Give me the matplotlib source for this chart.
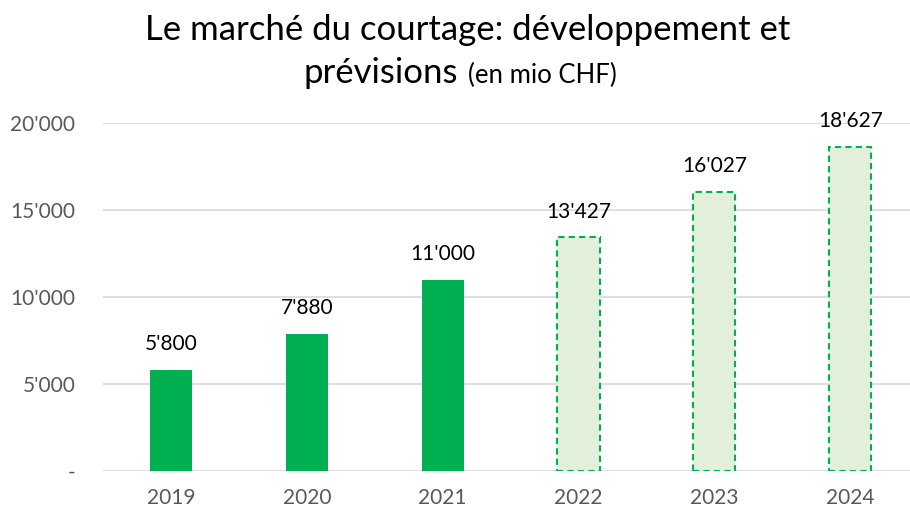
import matplotlib
matplotlib.use("Agg")
import matplotlib.pyplot as plt

plt.rcParams['font.family'] = ['Lato', 'DejaVu Sans']

years = ['2019', '2020', '2021', '2022', '2023', '2024']
actual = [5800, 7880, 11000, None, None, None]
forecast = [None, None, None, 13427, 16027, 18627]
yticks = [0, 5000, 10000, 15000, 20000]
ytick_labels = ['-', "5'000", "10'000", "15'000", "20'000"]

W, H = 910, 513


def fmt(v):
    return f"{v:,}".replace(',', "'")


fig = plt.figure(figsize=(W / 100, H / 100), dpi=100)
ax = fig.add_axes([103 / W, (H - 471) / H, (W - 103) / W, 348 / H])

x = list(range(len(years)))
bar_w = 0.31
for i in x:
    if actual[i] is not None:
        ax.bar(i, actual[i], width=bar_w, color='#00B050', zorder=3)
        v = actual[i]
    else:
        ax.bar(i, forecast[i], width=bar_w, color='#E2EFDA', edgecolor='#00B050',
               linestyle=(0, (3, 2)), linewidth=1.5, zorder=3)
        v = forecast[i]
    ax.text(i, v + 900, fmt(v), ha='center', va='bottom', fontsize=15,
            color='black', clip_on=False)

ax.set_xlim(-0.5, 5.44)
ax.set_ylim(0, 20000)
ax.set_yticks(yticks)
ax.set_yticklabels(ytick_labels)
ax.set_xticks(x)
ax.set_xticklabels(years)
ax.tick_params(axis='both', length=0, labelsize=15, colors='#595959')
ax.tick_params(axis='y', pad=20)
ax.tick_params(axis='x', pad=12)
ax.grid(axis='y', color='#D9D9D9', linewidth=1.2, zorder=0)
for s in ax.spines.values():
    s.set_visible(False)

# title, two lines, second line mixed size
fig.text(468 / W, 1 - 40 / H, "Le marché du courtage: développement et",
         ha='center', va='baseline', fontsize=25, color='black')
fig.text(458 / W, 1 - 83 / H, "prévisions", ha='right', va='baseline',
         fontsize=25, color='black')
fig.text(468 / W, 1 - 83 / H, "(en mio CHF)", ha='left', va='baseline',
         fontsize=18.5, color='black')

fig.savefig('out.png', dpi=100)
